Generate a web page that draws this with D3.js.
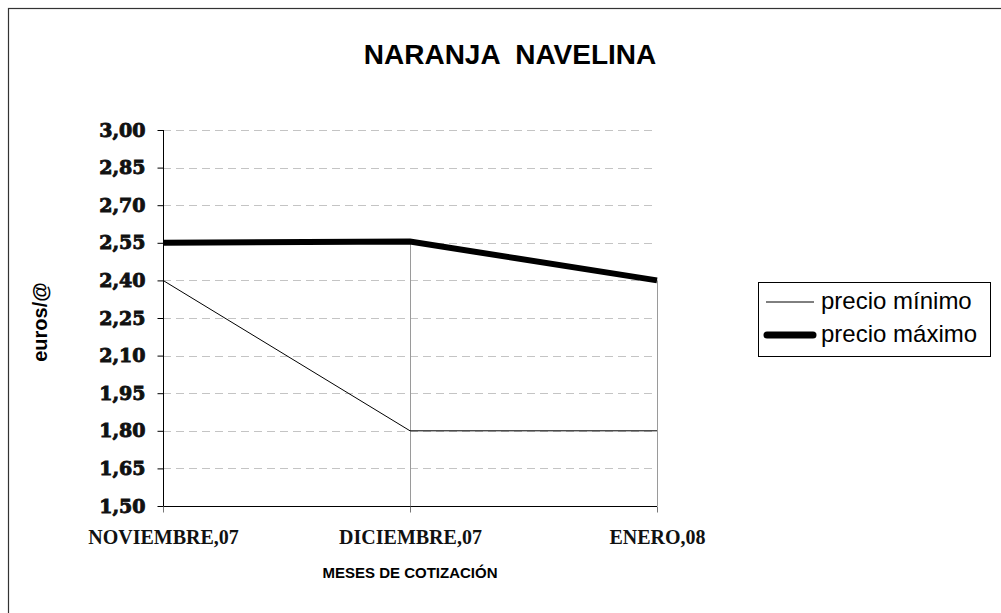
<!DOCTYPE html>
<html>
<head>
<meta charset="utf-8">
<script src="https://cdn.jsdelivr.net/npm/d3@7"></script>
<style>
  body { margin: 0; background: #fff; }
  svg { display: block; }
</style>
</head>
<body>
<div id="chart"></div>
<script>
// data
const categories = ["NOVIEMBRE,07", "DICIEMBRE,07", "ENERO,08"];
const precioMinimo = [2.40, 1.80, 1.80];
const precioMaximo = [2.55, 2.555, 2.40];
const yTicks = [1.50, 1.65, 1.80, 1.95, 2.10, 2.25, 2.40, 2.55, 2.70, 2.85, 3.00];

const width = 1001, height = 613;

const svg = d3.select("#chart").append("svg")
    .attr("width", width)
    .attr("height", height);

// outer frame
svg.append("rect")
    .attr("x", 8.5).attr("y", 8.5)
    .attr("width", 1100).attr("height", 700)
    .attr("fill", "none")
    .attr("stroke", "#333")
    .attr("stroke-width", 1.2);

const x = d3.scalePoint().domain(categories).range([163, 657]);
const y = d3.scaleLinear().domain([1.5, 3.0]).range([506, 130]);

// dashed grid
svg.append("g")
    .selectAll("line")
    .data(yTicks.filter(d => d > 1.5))
    .join("line")
    .attr("x1", 163).attr("x2", 657)
    .attr("y1", d => Math.round(y(d)) + 0.5)
    .attr("y2", d => Math.round(y(d)) + 0.5)
    .attr("stroke", "#c4c4c4")
    .attr("stroke-dasharray", "8,5");

// drop lines from max series to the axis
svg.append("g")
    .selectAll("line")
    .data(categories)
    .join("line")
    .attr("x1", d => Math.round(x(d)) + 0.5)
    .attr("x2", d => Math.round(x(d)) + 0.5)
    .attr("y1", (d, i) => y(precioMaximo[i]))
    .attr("y2", y(1.5))
    .attr("stroke", "#9a9a9a");

// y axis
const yAxis = svg.append("g")
    .attr("transform", "translate(163.5,0)")
    .call(d3.axisLeft(y).tickValues(yTicks).tickSize(6).tickPadding(12)
        .tickFormat(d => d3.format(".2f")(d).replace(".", ",")));
yAxis.select(".domain").attr("stroke", "#000").attr("d", "M0,130V506");
yAxis.selectAll(".tick line").attr("stroke", "#000");
yAxis.selectAll(".tick text")
    .attr("font-family", "'DejaVu Serif', serif")
    .attr("font-weight", "bold")
    .attr("font-size", 19)
    .attr("fill", "#111")
    .attr("stroke", "#111")
    .attr("stroke-width", 0.9);

// x axis
const xAxis = svg.append("g")
    .attr("transform", "translate(0,506.5)")
    .call(d3.axisBottom(x).tickSize(6).tickPadding(17));
xAxis.select(".domain").attr("stroke", "#000").attr("d", "M163,0H657");
xAxis.selectAll(".tick line").attr("stroke", "#777");
xAxis.selectAll(".tick text")
    .attr("font-family", "'Liberation Serif', 'Times New Roman', serif")
    .attr("font-weight", "bold")
    .attr("font-size", 20)
    .attr("fill", "#111");

// series
const line = d3.line()
    .x((d, i) => x(categories[i]))
    .y(d => y(d));

svg.append("path")
    .datum(precioMinimo)
    .attr("d", line)
    .attr("fill", "none")
    .attr("stroke", "#000")
    .attr("stroke-width", 1);

svg.append("path")
    .datum(precioMaximo)
    .attr("d", line)
    .attr("fill", "none")
    .attr("stroke", "#000")
    .attr("stroke-width", 6);

// titles
svg.append("text")
    .attr("x", 510).attr("y", 64)
    .attr("text-anchor", "middle")
    .attr("font-family", "'Liberation Sans', Arial, sans-serif")
    .attr("font-weight", "bold")
    .attr("font-size", 28)
    .attr("xml:space", "preserve")
    .text("NARANJA  NAVELINA");

svg.append("text")
    .attr("transform", "translate(47,322) rotate(-90)")
    .attr("text-anchor", "middle")
    .attr("font-family", "'Liberation Sans', Arial, sans-serif")
    .attr("font-weight", "bold")
    .attr("font-size", 20)
    .text("euros/@");

svg.append("text")
    .attr("x", 410).attr("y", 578)
    .attr("text-anchor", "middle")
    .attr("font-family", "'Liberation Sans', Arial, sans-serif")
    .attr("font-weight", "bold")
    .attr("font-size", 15)
    .text("MESES DE COTIZACIÓN");

// legend
const legend = svg.append("g");
legend.append("rect")
    .attr("x", 758.5).attr("y", 282.5)
    .attr("width", 232).attr("height", 74)
    .attr("fill", "#fff")
    .attr("stroke", "#000");

const legendItems = [
    { label: "precio mínimo", w: 1, cap: "butt", y: 302, x1: 766, x2: 814 },
    { label: "precio máximo", w: 7, cap: "round", y: 335, x1: 767, x2: 813 }
];
const li = legend.selectAll("g.item").data(legendItems).join("g").attr("class", "item");
li.append("line")
    .attr("x1", d => d.x1)
    .attr("x2", d => d.x2)
    .attr("y1", d => d.y).attr("y2", d => d.y)
    .attr("stroke", "#000")
    .attr("stroke-width", d => d.w)
    .attr("stroke-linecap", d => d.cap);
li.append("text")
    .attr("x", 821)
    .attr("y", d => d.y + 7)
    .attr("font-family", "'Liberation Sans', Arial, sans-serif")
    .attr("font-size", 24)
    .text(d => d.label);
</script>
</body>
</html>
